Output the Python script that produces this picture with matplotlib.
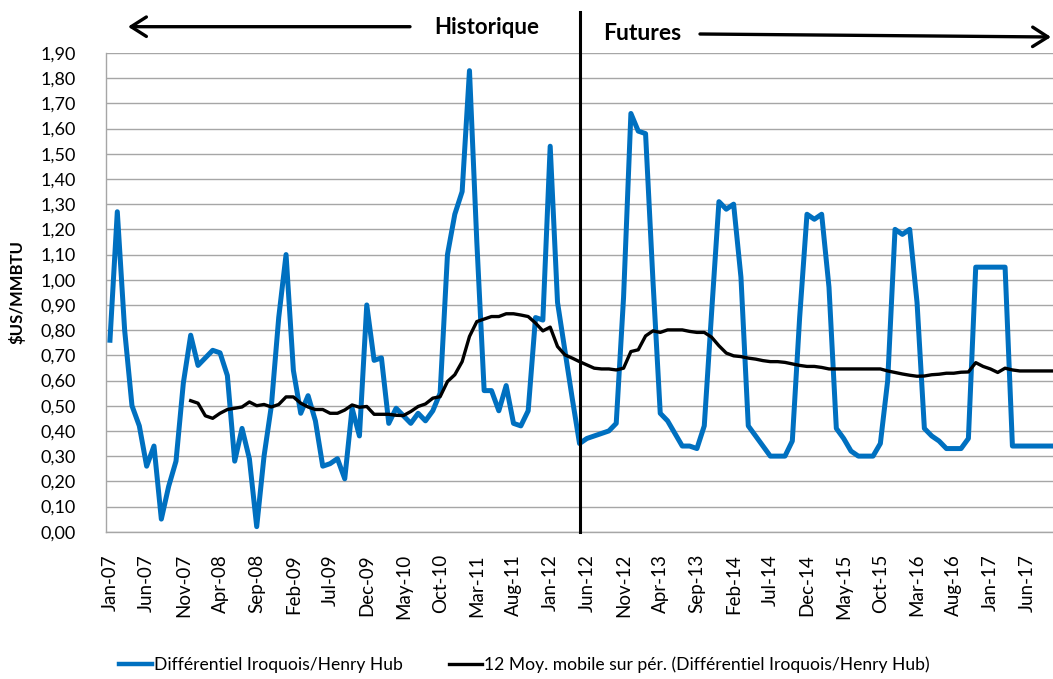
import numpy as np
import pandas as pd
import matplotlib
matplotlib.use('Agg')
import matplotlib.pyplot as plt
from matplotlib.lines import Line2D

plt.rcParams['font.family'] = ['Lato', 'DejaVu Sans']

# ── Données ──────────────────────────────────────────────────────────────────
months = list(pd.date_range('2007-01-01', periods=130, freq='MS').strftime('%b-%y'))

differentiel = [
    0.76, 1.27, 0.80, 0.50, 0.42, 0.26, 0.34, 0.05, 0.18, 0.28,   # 2007
    0.59, 0.78, 0.66, 0.69, 0.72, 0.71, 0.62, 0.28, 0.41, 0.29,
    0.02, 0.30, 0.50, 0.85, 1.10, 0.64, 0.47, 0.54, 0.44, 0.26,
    0.27, 0.29, 0.21, 0.49, 0.38, 0.90, 0.68, 0.69, 0.43, 0.49,
    0.46, 0.43, 0.47, 0.44, 0.48, 0.55, 1.10, 1.26, 1.35, 1.83,
    1.15, 0.56, 0.56, 0.48, 0.58, 0.43, 0.42, 0.48, 0.85, 0.84,
    1.53, 0.91, 0.72, 0.53, 0.35, 0.37, 0.38, 0.39, 0.40, 0.43,
    0.93, 1.66, 1.59, 1.58, 1.00, 0.47, 0.44, 0.39, 0.34, 0.34,
    0.33, 0.42, 0.87, 1.31, 1.28, 1.30, 1.01, 0.42, 0.38, 0.34,
    0.30, 0.30, 0.30, 0.36, 0.85, 1.26, 1.24, 1.26, 0.97, 0.41,
    0.37, 0.32, 0.30, 0.30, 0.30, 0.35, 0.60, 1.20, 1.18, 1.20,
    0.91, 0.41, 0.38, 0.36, 0.33, 0.33, 0.33, 0.37, 1.05, 1.05,
    1.05, 1.05, 1.05, 0.34, 0.34, 0.34, 0.34, 0.34, 0.34, 0.34,
]

# moyenne mobile 12 mois : commence en Dec-07
moy_mobile_debut = 'Dec-07'
moy_mobile = [
    0.520, 0.510, 0.460, 0.450, 0.470, 0.485, 0.490, 0.495, 0.515,
    0.500, 0.505, 0.495, 0.505, 0.535, 0.535, 0.510, 0.495, 0.485,
    0.485, 0.470, 0.470, 0.483, 0.503, 0.494, 0.497, 0.466, 0.466,
    0.466, 0.462, 0.461, 0.477, 0.497, 0.507, 0.530, 0.536, 0.596,
    0.623, 0.675, 0.775, 0.834, 0.844, 0.854, 0.854, 0.865, 0.865,
    0.860, 0.854, 0.828, 0.797, 0.812, 0.735, 0.702, 0.689, 0.675,
    0.662, 0.649, 0.646, 0.646, 0.642, 0.649, 0.715, 0.722, 0.777,
    0.797, 0.791, 0.801, 0.801, 0.801, 0.795, 0.791, 0.791, 0.772,
    0.738, 0.709, 0.698, 0.695, 0.689, 0.685, 0.679, 0.675, 0.675,
    0.672, 0.666, 0.660, 0.656, 0.656, 0.652, 0.646, 0.646, 0.646,
    0.646, 0.646, 0.646, 0.646, 0.646, 0.638, 0.632, 0.626, 0.621,
    0.617, 0.618, 0.623, 0.625, 0.629, 0.629, 0.633, 0.634, 0.671,
    0.656, 0.646, 0.632, 0.649, 0.642, 0.638, 0.638, 0.638, 0.638,
    0.638, 0.638,
]

debut_futures = 'May-12'
y_ticks = np.round(np.arange(0, 1.91, 0.1), 2)

# ── Mise en forme ────────────────────────────────────────────────────────────
BLUE = '#0070C0'
GRID = '#A6A6A6'

x = np.arange(len(months))
i0 = months.index(moy_mobile_debut)
ma = np.full(len(months), np.nan)
ma[i0:i0 + len(moy_mobile)] = moy_mobile
i_fut = months.index(debut_futures)

W, H = 1053, 679
fig = plt.figure(figsize=(W / 100, H / 100), dpi=100)
px_month = 7.337
ax = fig.add_axes([106.3 / W, (H - 531.7) / H, len(months) * px_month / W, (531.7 - 53) / H])

ax.plot(x, differentiel, color=BLUE, lw=3.6, solid_joinstyle='round', zorder=3)
ax.plot(x, ma, color='black', lw=2.4, solid_joinstyle='round', zorder=4)

# séparation historique / futures
ax.plot([x[i_fut], x[i_fut]], [0, 2.062], color='black', lw=2.2, clip_on=False, zorder=5)

ax.set_xlim(-0.5, len(months) - 0.5)
ax.set_ylim(0, 1.9)
ax.set_yticks(y_ticks)
ax.set_yticklabels([f'{v:.2f}'.replace('.', ',') for v in y_ticks])
ax.set_xticks(x[::5])
ax.set_xticklabels(months[::5], rotation=90)
ax.tick_params(axis='y', length=0, pad=22, labelsize=13)
ax.tick_params(axis='x', length=0, pad=16, labelsize=13.5)
ax.grid(axis='y', color=GRID, lw=1.0)
ax.set_axisbelow(True)
for s in ['top', 'right']:
    ax.spines[s].set_visible(False)
for s in ['left', 'bottom']:
    ax.spines[s].set_color(GRID)
    ax.spines[s].set_linewidth(1.0)

fig.text(17 / W, 1 - 291.5 / H, '$US/MMBTU', rotation=90, ha='center', va='center',
         fontsize=12, fontweight='bold')

# en-tête : flèches et étiquettes
ax.annotate('', xy=(128, H - 26.7), xytext=(410, H - 26.7), xycoords='figure pixels',
            arrowprops=dict(arrowstyle='->,head_length=0.55,head_width=0.35', lw=2.4,
                            color='black', mutation_scale=20, shrinkA=0, shrinkB=0))
ax.annotate('', xy=(1051, H - 37), xytext=(700, H - 34), xycoords='figure pixels',
            arrowprops=dict(arrowstyle='->,head_length=0.55,head_width=0.35', lw=2.4,
                            color='black', mutation_scale=20, shrinkA=0, shrinkB=0))
fig.text(487 / W, 1 - 27 / H, 'Historique', ha='center', va='center', fontsize=16, fontweight='bold')
fig.text(642 / W, 1 - 33 / H, 'Futures', ha='center', va='center', fontsize=16.5, fontweight='bold')

handles = [Line2D([], [], color=BLUE, lw=3.2),
           Line2D([], [], color='black', lw=2.4)]
labels = ['Différentiel Iroquois/Henry Hub',
          '12 Moy. mobile sur pér. (Différentiel Iroquois/Henry Hub)']
fig.legend(handles, labels, loc='center left', bbox_to_anchor=(119 / W, 1 - 665 / H),
           ncol=2, frameon=False, fontsize=12.6, handlelength=1.9, handletextpad=0.12,
           columnspacing=2.6, borderpad=0, borderaxespad=0)

fig.savefig('out.png', dpi=100)
